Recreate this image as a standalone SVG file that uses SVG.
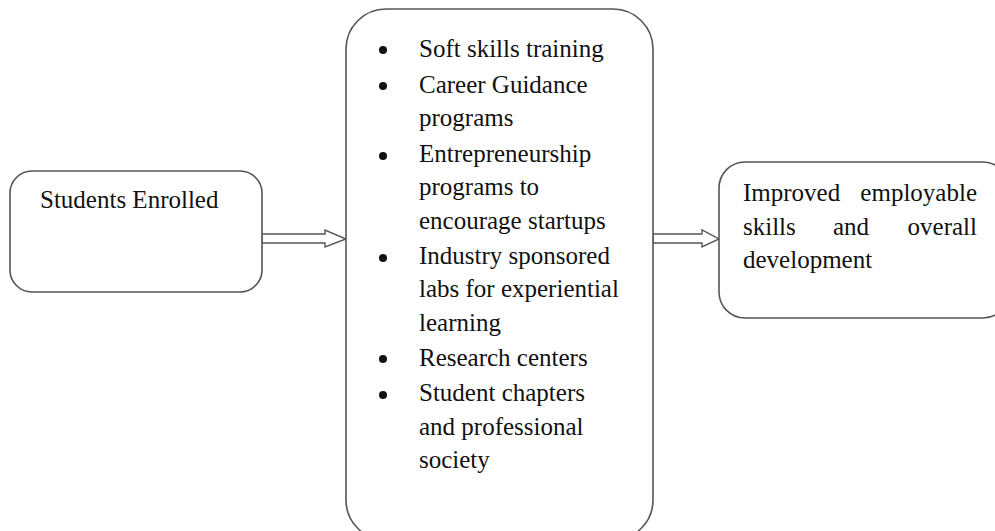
<svg xmlns="http://www.w3.org/2000/svg" width="995" height="531" viewBox="0 0 995 531">
<style>
.box{fill:#fff;stroke:#555;stroke-width:1.6}
.arr{fill:#fff;stroke:#555;stroke-width:1.4}
.t{font-size:25px;fill:#111}
.dot{fill:#111}
</style>
<rect width="995" height="531" fill="#fff"/>
<g id="connectors">
<polygon class="arr" points="262,234 325,234 325,230 346,239 325,247 325,243 262,243"/>
<polygon class="arr" points="653,234 702,234 702,230 719,239 702,247 702,243 653,243"/>
</g>
<g id="students" font-family="'Liberation Serif', 'DejaVu Serif', serif">
<rect class="box" x="10" y="171" width="252" height="121" rx="22"/>
<text class="t" x="40" y="208">Students Enrolled</text>
</g>
<g id="initiatives" font-family="'Liberation Serif', 'DejaVu Serif', serif">
<rect class="box" x="346" y="9" width="307" height="531" rx="40"/>
<circle class="dot" cx="383" cy="50" r="4"/>
<circle class="dot" cx="383" cy="86" r="4"/>
<circle class="dot" cx="383" cy="156" r="4"/>
<circle class="dot" cx="383" cy="258" r="4"/>
<circle class="dot" cx="383" cy="359" r="4"/>
<circle class="dot" cx="383" cy="395" r="4"/>
<text class="t" x="419" y="57">Soft skills training</text>
<text class="t" x="419" y="93">Career Guidance</text>
<text class="t" x="419" y="126">programs</text>
<text class="t" x="419" y="162">Entrepreneurship</text>
<text class="t" x="419" y="195">programs to</text>
<text class="t" x="419" y="229">encourage startups</text>
<text class="t" x="419" y="264">Industry sponsored</text>
<text class="t" x="419" y="297">labs for experiential</text>
<text class="t" x="419" y="331">learning</text>
<text class="t" x="419" y="366">Research centers</text>
<text class="t" x="419" y="401">Student chapters</text>
<text class="t" x="419" y="435">and professional</text>
<text class="t" x="419" y="468">society</text>
</g>
<g id="outcome" font-family="'Liberation Serif', 'DejaVu Serif', serif">
<rect class="box" x="719" y="162" width="290" height="156" rx="26"/>
<text class="t" x="743" y="201">Improved</text>
<text class="t" x="977" y="201" text-anchor="end">employable</text>
<text class="t" x="743" y="235">skills</text>
<text class="t" x="833" y="235">and</text>
<text class="t" x="977" y="235" text-anchor="end">overall</text>
<text class="t" x="743" y="268">development</text>
</g>
</svg>
